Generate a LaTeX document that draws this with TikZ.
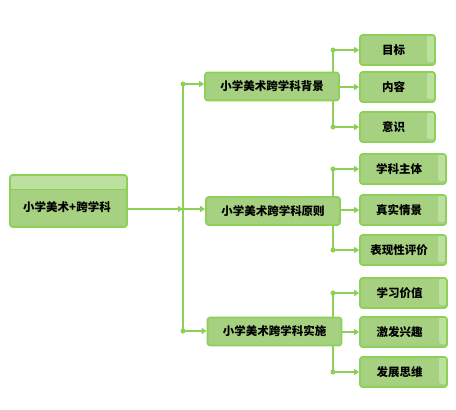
\documentclass[tikz,border=0pt]{standalone}
\usepackage{fontspec}
\setmainfont{Noto Sans CJK SC}
\usetikzlibrary{positioning,arrows.meta,backgrounds}
\definecolor{linegreen}{RGB}{141,207,87}
\definecolor{boxgreen}{RGB}{166,209,128}
\definecolor{stripgreen}{RGB}{188,224,158}

\begin{document}
\begin{tikzpicture}[x=1pt,y=-1pt,
    box/.style={draw=linegreen,line width=1.6pt,fill=boxgreen,rounded corners=2.5pt,
      inner sep=0pt,font=\bfseries\fontsize{11.5}{13}\selectfont},
    rootbox/.style={box,minimum width=117pt,minimum height=52pt,
      path picture={\fill[stripgreen] (path picture bounding box.north west)
        rectangle ([yshift=-14pt]path picture bounding box.north east);
        \draw[linegreen,line width=1pt] ([yshift=-14pt]path picture bounding box.north west)
        -- ([yshift=-14pt]path picture bounding box.north east);}},
    midbox/.style={box,minimum width=134pt,minimum height=28pt},
    leafbox/.style={box,minimum height=30pt,
      path picture={\fill[stripgreen] ([xshift=-8pt]path picture bounding box.north east)
        rectangle ([yshift=3pt]path picture bounding box.south east);}},
    link/.style={linegreen,line width=2pt},
    arr/.style={link,-{Triangle[length=5pt,width=6pt]}},
    dot/.style={circle,fill=linegreen,inner sep=0pt,minimum size=5pt}]
  \useasboundingbox (0,0) rectangle (456,410);

  % root and middle level
  \node[rootbox] (root) at (68.5,201) {};
  \node[font=\bfseries\fontsize{11.5}{13}\selectfont] (roottext) at (67,207) {小学美术+跨学科};
  \node[midbox] (bg) at (272,86.5) {小学美术跨学科背景};
  \node[midbox] (yz) at (273,211) {小学美术跨学科原则};
  \node[midbox] (ss) at (274.5,331.5) {小学美术跨学科实施};

  % leaves
  \node[leafbox,minimum width=75pt] (mb) at (397.5,50) {\hspace{-8pt}目标};
  \node[leafbox,minimum width=75pt] (nr) at (397.5,87) {\hspace{-8pt}内容};
  \node[leafbox,minimum width=75pt] (ys) at (397.5,127) {\hspace{-8pt}意识};
  \node[leafbox,minimum width=86pt] (xkzt) at (403,169) {\hspace{-8pt}学科主体};
  \node[leafbox,minimum width=86pt] (zsqj) at (403,210) {\hspace{-8pt}真实情景};
  \node[leafbox,minimum width=86pt] (bxpj) at (403,250) {\hspace{-8pt}表现性评价};
  \node[leafbox,minimum width=87pt] (xxjz) at (403.5,293) {\hspace{-8pt}学习价值};
  \node[leafbox,minimum width=87pt] (jfxq) at (403.5,332) {\hspace{-8pt}激发兴趣};
  \node[leafbox,minimum width=87pt] (fzsw) at (403.5,372) {\hspace{-8pt}发展思维};

  % trunk from the root
  \coordinate (t1) at (183,84);
  \coordinate (t2) at (183,209);
  \coordinate (t3) at (183,331);
  \coordinate (rx) at (333,0);
  \begin{scope}[on background layer]
    \draw[link] (t1) -- (t3);
    \draw[arr] (root.east |- t2) -- (t2);
    \draw[arr] (t1) -- (bg.west |- t1);
    \draw[arr] (t2) -- (yz.west |- t2);
    \draw[arr] (t3) -- (ss.west |- t3);
    \node[dot] (d1) at (t1) {};
    \node[dot] (d3) at (t3) {};

    % branches to the leaves
    \foreach \mid/\top/\cen/\bot in {bg/mb/nr/ys, yz/xkzt/zsqj/bxpj, ss/xxjz/jfxq/fzsw}{
      \draw[link] (rx |- \top) -- (rx |- \bot);
      \draw[arr] (rx |- \top) -- (\top.west);
      \draw[arr] (rx |- \bot) -- (\bot.west);
      \draw[arr] (\mid.east |- \cen) -- (\cen.west);
      \node[dot] at (rx |- \top) {};
      \node[dot] at (rx |- \bot) {};
    }
  \end{scope}
\end{tikzpicture}
\end{document}
